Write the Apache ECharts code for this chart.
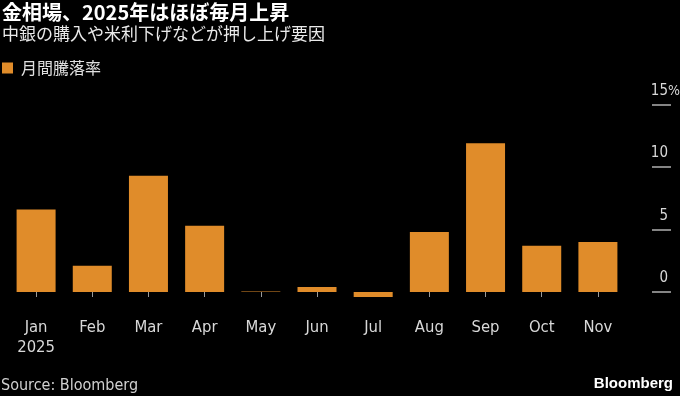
<!DOCTYPE html>
<html>
<head>
<meta charset="utf-8">
<script src="https://cdn.jsdelivr.net/npm/echarts@6/dist/echarts.min.js"></script>
<style>
html,body{margin:0;padding:0;background:#000;}
#c{width:680px;height:396px;}
</style>
</head>
<body>
<div id="c"></div>
<script>
// Data
const categories = ['Jan','Feb','Mar','Apr','May','Jun','Jul','Aug','Sep','Oct','Nov'];
const monthlyChange = [6.6, 2.1, 9.3, 5.3, 0.05, 0.4, -0.4, 4.8, 11.9, 3.7, 4.0];
const yTicks = [0, 5, 10, 15];
const seriesName = '月間騰落率';
const titleText = '金相場、2025年はほぼ毎月上昇';
const subtitleText = '中銀の購入や米利下げなどが押し上げ要因';
const sourceText = 'Source: Bloomberg';

const latin = '"DejaVu Sans Condensed", "DejaVu Sans", sans-serif';
const narrow = '"Liberation Sans Narrow", "DejaVu Sans Condensed", sans-serif';
const cjk = '"Noto Sans CJK JP", "Noto Sans", sans-serif';
const barColor = '#E08C2A';

// measure width of % so numbers right-align consistently
const mctx = document.createElement('canvas').getContext('2d');
mctx.font = '14px ' + narrow;
const pctW = Math.round(mctx.measureText('%').width);

const chart = echarts.init(document.getElementById('c'));
chart.setOption({
  backgroundColor: '#000',
  animation: false,
  grid: { left: 8, right: 54, top: 104.5, bottom: 104, outerBoundsMode: 'none', containLabel: false },
  legend: {
    left: 2, top: 60, padding: 0,
    itemWidth: 11, itemHeight: 11,
    icon: 'rect',
    textStyle: { color: '#e0e0e0', fontSize: 16, fontFamily: cjk, padding: [0,0,0,3] },
    data: [seriesName]
  },
  xAxis: {
    type: 'category',
    data: categories,
    offset: 13,
    axisLine: { show: false },
    axisTick: { show: true, alignWithLabel: true, length: 5, lineStyle: { color: '#9a9a9a', width: 1 } },
    axisLabel: {
      color: '#d8d8d8', fontSize: 16.5, fontFamily: latin, margin: 13, lineHeight: 19.5,
      formatter: function (v, i) { return i === 0 ? v + '\n2025' : v; }
    }
  },
  yAxis: {
    type: 'value',
    position: 'right',
    min: 0, max: 15, interval: 5,
    offset: 26,
    splitLine: { show: false },
    axisLine: { show: false },
    axisTick: { show: true, length: 19, lineStyle: { color: '#b0b0b0', width: 1.5 } },
    axisLabel: {
      margin: 28, align: 'right', verticalAlign: 'bottom', padding: [0,0,6,0],
      color: '#d8d8d8', fontSize: 15, fontFamily: latin,
      formatter: function (v) {
        return (v === yTicks[yTicks.length - 1]) ? '{n|' + v + '}{p|%}' : '{n|' + v + '}{s|}';
      },
      rich: {
        n: { color: '#d8d8d8', fontSize: 15, fontFamily: latin, lineHeight: 15 },
        p: { color: '#d8d8d8', fontSize: 14, fontFamily: narrow, lineHeight: 15 },
        s: { width: pctW, lineHeight: 15 }
      }
    }
  },
  series: [{
    name: seriesName,
    type: 'bar',
    data: monthlyChange,
    barWidth: 39,
    clip: false,
    itemStyle: { color: barColor }
  }],
  graphic: [
    { type: 'text', left: 2, top: 2, style: { text: titleText, fill: '#fff', font: 'bold 20px ' + cjk } },
    { type: 'text', left: 2, top: 25.5, style: { text: subtitleText, fill: '#eaeaea', font: '17px ' + cjk } },
    { type: 'text', left: 1, top: 378, style: { text: sourceText, fill: '#d0d0d0', font: '16px ' + latin } },
    { type: 'text', right: 7, top: 376, style: { text: 'Bloomberg', fill: '#fff', font: 'bold 15px "Liberation Sans", Arial, sans-serif' } }
  ]
});
</script>
</body>
</html>
